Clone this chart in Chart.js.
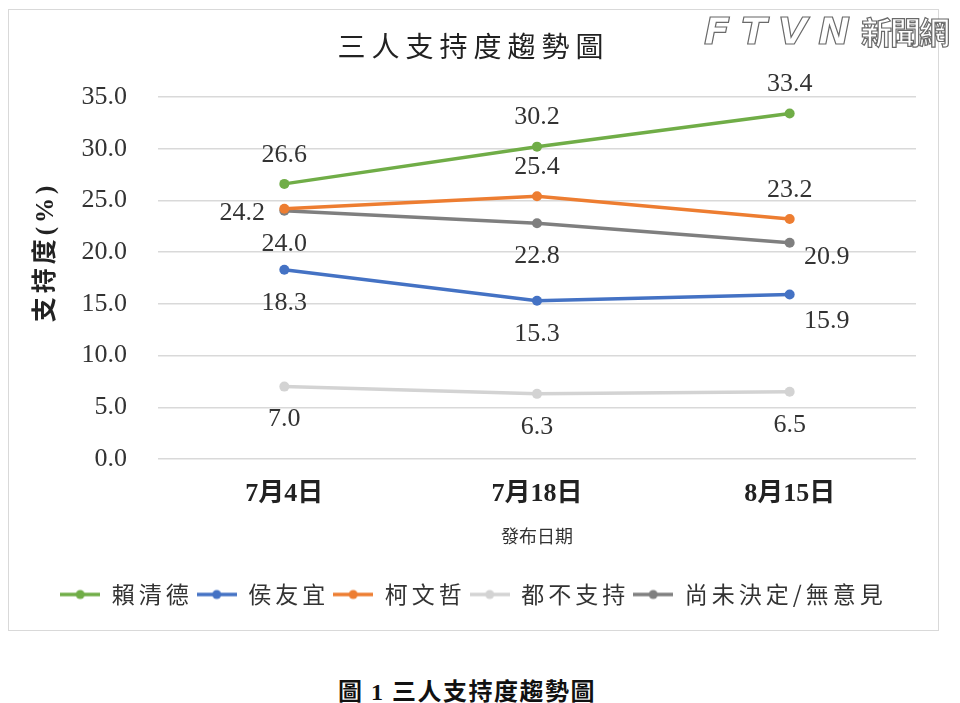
<!DOCTYPE html>
<html><head><meta charset="utf-8">
<script src="https://cdn.jsdelivr.net/npm/chart.js@4.4.1/dist/chart.umd.min.js"></script>
<style>
html,body{margin:0;padding:0;background:#fff;width:960px;height:703px;overflow:hidden;}
#box{position:absolute;left:8px;top:9px;width:929px;height:620px;border:1px solid #d9d9d9;}
#c{display:block;}
#wm{position:absolute;left:704px;top:8px;font-family:'DejaVu Sans','Noto Sans CJK TC',sans-serif;font-weight:bold;color:#fff;-webkit-text-stroke:1.2px #6a6a6a;white-space:nowrap;}
#wm .a{font-size:38px;font-style:italic;letter-spacing:11px;}
#wm .b{font-size:31px;font-family:'Noto Sans CJK TC',sans-serif;letter-spacing:-2px;}
#cap{position:absolute;left:0;width:934px;top:672px;text-align:center;font-family:'Liberation Serif','Noto Sans CJK TC',serif;font-weight:bold;font-size:24px;letter-spacing:1.5px;color:#111;}
</style></head><body>
<div id="box"><canvas id="c" width="929" height="620"></canvas></div>
<div id="wm"><span class="a">FTVN</span><span class="b">新聞網</span></div>
<div id="cap">圖 1 三人支持度趨勢圖</div>
<script>
const categories = ['7月4日', '7月18日', '8月15日'];
const seriesNames = ['賴清德', '侯友宜', '柯文哲', '都不支持', '尚未決定/無意見'];
const laiValues = [26.6, 30.2, 33.4];
const houValues = [18.3, 15.3, 15.9];
const koValues = [24.2, 25.4, 23.2];
const noneValues = [7.0, 6.3, 6.5];
const undecidedValues = [24.0, 22.8, 20.9];
const yTicks = [0, 5, 10, 15, 20, 25, 30, 35];

const seriesValues = [laiValues, houValues, koValues, noneValues, undecidedValues];
const colors = ['#70AD47', '#4472C4', '#ED7D31', '#D3D3D3', '#7F7F7F'];
const labelPlacement = [
  ['above', 'above', 'above'],
  ['below', 'below', 'belowRight'],
  ['left', 'above', 'above'],
  ['below', 'below', 'below'],
  ['below', 'below', 'right']
];
const placementOffsets = {above:[0,-29], below:[0,33], left:[-42,4], right:[37,14], belowRight:[37,27]};

const SERIF = "'Liberation Serif','Noto Sans CJK TC',serif";
const CJK = "'Noto Sans CJK TC',sans-serif";

function legendMarker(color) {
  const cv = document.createElement('canvas');
  cv.width = 40; cv.height = 12;
  const g = cv.getContext('2d');
  g.strokeStyle = color; g.lineWidth = 3.5; g.lineCap = 'butt';
  g.beginPath(); g.moveTo(0, 6); g.lineTo(40, 6); g.stroke();
  g.fillStyle = color; g.beginPath(); g.arc(20, 6, 4.5, 0, Math.PI * 2); g.fill();
  return cv;
}

const dataLabelPlugin = {
  id: 'dataLabels',
  afterDatasetsDraw(chart) {
    const ctx = chart.ctx;
    ctx.save();
    ctx.font = "26px " + SERIF;
    ctx.fillStyle = '#333333';
    ctx.textAlign = 'center';
    ctx.textBaseline = 'middle';
    chart.data.datasets.forEach((ds, i) => {
      const meta = chart.getDatasetMeta(i);
      meta.data.forEach((pt, j) => {
        const off = placementOffsets[labelPlacement[i][j]];
        ctx.fillText(ds.data[j].toFixed(1), pt.x + off[0], pt.y + off[1]);
      });
    });
    ctx.restore();
  }
};

const yTitlePlugin = {
  id: 'yTitle',
  afterDraw(chart) {
    const ctx = chart.ctx;
    const a = chart.chartArea;
    ctx.save();
    ctx.translate(38, (a.top + a.bottom) / 2 - 26);
    ctx.rotate(-Math.PI / 2);
    ctx.font = "bold 25px " + SERIF;
    ctx.letterSpacing = '4px';
    ctx.fillStyle = '#222';
    ctx.textAlign = 'center';
    ctx.textBaseline = 'middle';
    ctx.fillText('支持度(%)', 0, 0);
    ctx.restore();
  }
};

const chart = new Chart(document.getElementById('c'), {
  type: 'line',
  data: {
    labels: categories,
    datasets: seriesNames.map((n, i) => ({
      label: n,
      data: seriesValues[i],
      borderColor: colors[i],
      backgroundColor: colors[i],
      borderWidth: 3.5,
      pointRadius: 5,
      pointHoverRadius: 5,
      pointBackgroundColor: colors[i],
      pointBorderWidth: 0,
      tension: 0,
      fill: false
    }))
  },
  options: {
    responsive: false,
    devicePixelRatio: 1,
    animation: false,
    layout: { padding: { left: 22, right: 22, top: 0, bottom: 14 } },
    plugins: {
      tooltip: { enabled: false },
      title: {
        display: true,
        text: '三人支持度趨勢圖',
        color: '#222',
        font: { family: CJK, size: 28, weight: 'normal' },
        padding: { top: 20, bottom: 33.4 }
      },
      legend: {
        position: 'bottom',
        labels: {
          usePointStyle: true,
          pointStyleWidth: 40,
          color: '#333',
          font: { family: CJK, size: 23 },
          padding: 4,
          generateLabels(chart) {
            return chart.data.datasets.map((ds, i) => ({
              text: ds.label,
              pointStyle: legendMarker(colors[i]),
              fillStyle: colors[i],
              strokeStyle: colors[i],
              lineWidth: 0,
              hidden: false,
              datasetIndex: i,
              fontColor: '#333'
            }));
          }
        }
      }
    },
    scales: {
      x: {
        offset: true,
        grid: { display: false, drawTicks: false },
        border: { display: false },
        ticks: {
          color: '#222',
          padding: 20,
          font: { family: SERIF, size: 26, weight: 'bold' }
        },
        title: {
          display: true,
          text: '發布日期',
          color: '#333',
          font: { family: CJK, size: 18 },
          padding: { top: 8, bottom: 32 }
        },
        afterFit(scale) { scale.height = 120; }
      },
      y: {
        min: 0, max: 35,
        afterBuildTicks(scale) { scale.ticks = yTicks.map(v => ({ value: v })); },
        grid: { color: '#d9d9d9', lineWidth: 1.5, drawTicks: false },
        border: { display: false },
        ticks: {
          color: '#333',
          padding: 31,
          font: { family: SERIF, size: 26 },
          callback: v => Number(v).toFixed(1)
        },
        title: { display: false },
        afterFit(scale) { scale.width = 127; }
      }
    }
  },
  plugins: [dataLabelPlugin, yTitlePlugin]
});

function withSpacing(box, spacing, fns) {
  if (!box) return;
  fns.forEach(fn => {
    if (typeof box[fn] !== 'function') return;
    const orig = box[fn].bind(box);
    box[fn] = function (...args) {
      const ctx = chart.ctx;
      const prev = ctx.letterSpacing;
      ctx.letterSpacing = spacing;
      const r = orig(...args);
      ctx.letterSpacing = prev || '0px';
      return r;
    };
  });
}
withSpacing(chart.legend, '4px', ['fit', 'draw']);
withSpacing(chart.titleBlock, '6px', ['draw']);
chart.update();
</script>
</body></html>
